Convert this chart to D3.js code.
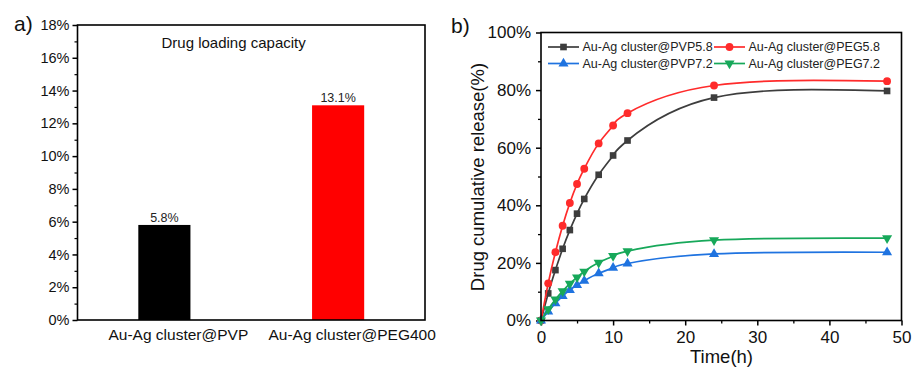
<!DOCTYPE html>
<html>
<head>
<meta charset="utf-8">
<script src="https://cdn.jsdelivr.net/npm/d3@7"></script>
<style>
  body { margin: 0; background: #fff; }
  svg { display: block; font-family: "Liberation Sans", Arial, sans-serif; }
</style>
</head>
<body>
<div id="chart"></div>
<script>
// panel a data
const loadCategories = ["Au-Ag cluster@PVP", "Au-Ag cluster@PEG400"]
const loadValues = [5.8, 13.1]
const loadColors = ["#000000", "#ff0000"]
const loadTicks = [0, 2, 4, 6, 8, 10, 12, 14, 16, 18]

// panel b data
const times = [0, 1, 2, 3, 4, 5, 6, 8, 10, 12, 24, 48]
const pvp58 = [0, 9.4, 17.5, 24.9, 31.4, 37.1, 42.2, 50.6, 57.3, 62.5, 77.4, 79.7]
const peg58 = [0, 12.9, 23.7, 32.9, 40.8, 47.4, 52.7, 61.5, 67.7, 72.0, 81.6, 83.1]
const pvp72 = [0, 3.1, 6.0, 8.5, 10.6, 12.3, 13.8, 16.4, 18.3, 19.8, 23.1, 23.7]
const peg72 = [0, 3.9, 7.3, 10.2, 12.8, 15.0, 17.0, 20.1, 22.4, 24.1, 27.9, 28.6]
const seriesNames = ["Au-Ag cluster@PVP5.8", "Au-Ag cluster@PEG5.8", "Au-Ag cluster@PVP7.2", "Au-Ag cluster@PEG7.2"]
const releaseTicks = [0, 20, 40, 60, 80, 100]
const timeTicks = [0, 10, 20, 30, 40, 50]

const width = 912
const height = 368

const svg = d3
  .select("#chart")
  .append("svg")
  .attr("width", width)
  .attr("height", height)
  .attr("viewBox", [0, 0, width, height])

// ---------- panel a ----------
const a = { left: 77.5, right: 425, top: 25, bottom: 320 }

const xA = d3
  .scalePoint()
  .domain(loadCategories)
  .range([a.left, a.right])
  .padding(0.5)
const barW = xA.step() * 0.3
const yA = d3.scaleLinear().domain([0, 18]).range([a.bottom, a.top])

svg
  .append("g")
  .selectAll("rect")
  .data(loadValues)
  .join("rect")
  .attr("x", (d, i) => xA(loadCategories[i]) - barW / 2)
  .attr("y", d => yA(d))
  .attr("width", barW)
  .attr("height", d => yA(0) - yA(d))
  .attr("fill", (d, i) => loadColors[i])

svg
  .append("g")
  .selectAll("text")
  .data(loadValues)
  .join("text")
  .attr("x", (d, i) => xA(loadCategories[i]))
  .attr("y", d => yA(d) - 3)
  .attr("text-anchor", "middle")
  .attr("font-size", 12.5)
  .attr("fill", "#222")
  .text(d => d.toFixed(1) + "%")

// minor ticks a
svg
  .append("g")
  .attr("transform", `translate(${a.left},0)`)
  .call(d3.axisLeft(yA).tickValues(d3.range(1, 18, 2)).tickSize(3).tickFormat(""))
  .call(g => g.select(".domain").remove())
  .selectAll("line")
  .attr("stroke-width", 1.2)

svg
  .append("g")
  .attr("transform", `translate(${a.left},0)`)
  .call(
    d3
      .axisLeft(yA)
      .tickValues(loadTicks)
      .tickSize(5)
      .tickPadding(3)
      .tickFormat(d => d + "%")
  )
  .call(g => g.select(".domain").remove())
  .call(g => g.selectAll("line").attr("stroke-width", 1.5))
  .selectAll("text")
  .attr("font-size", 14.5)
  .attr("font-family", "Liberation Sans, Arial, sans-serif")
  .attr("fill", "#111")

svg
  .append("g")
  .selectAll("text")
  .data(loadCategories)
  .join("text")
  .attr("x", d => xA(d) + 14)
  .attr("y", 340)
  .attr("text-anchor", "middle")
  .attr("font-size", 15.5)
  .attr("fill", "#111")
  .text(d => d)

svg
  .append("rect")
  .attr("x", a.left)
  .attr("y", a.top)
  .attr("width", a.right - a.left)
  .attr("height", a.bottom - a.top)
  .attr("fill", "none")
  .attr("stroke", "#000")
  .attr("stroke-width", 1.6)

svg
  .append("text")
  .attr("x", 161.5)
  .attr("y", 48)
  .attr("font-size", 15)
  .attr("fill", "#111")
  .text("Drug loading capacity")

svg
  .append("text")
  .attr("x", 14)
  .attr("y", 31)
  .attr("font-size", 21)
  .attr("fill", "#111")
  .text("a)")

// ---------- panel b ----------
const b = { left: 541, right: 901.5, top: 32.5, bottom: 320.5 }

const xB = d3.scaleLinear().domain([0, 50]).range([b.left, b.right])
const yB = d3.scaleLinear().domain([0, 100]).range([b.bottom, b.top])

// minor ticks b
svg
  .append("g")
  .attr("transform", `translate(0,${b.bottom})`)
  .call(d3.axisBottom(xB).tickValues(d3.range(5, 50, 10)).tickSize(3).tickFormat(""))
  .call(g => g.select(".domain").remove())
  .selectAll("line")
  .attr("stroke-width", 1.3)
svg
  .append("g")
  .attr("transform", `translate(${b.left},0)`)
  .call(d3.axisLeft(yB).tickValues(d3.range(10, 100, 20)).tickSize(3).tickFormat(""))
  .call(g => g.select(".domain").remove())
  .selectAll("line")
  .attr("stroke-width", 1.3)

svg
  .append("g")
  .attr("transform", `translate(0,${b.bottom})`)
  .call(d3.axisBottom(xB).tickValues(timeTicks).tickSize(5).tickPadding(5))
  .call(g => g.select(".domain").remove())
  .call(g => g.selectAll("line").attr("stroke-width", 1.5))
  .selectAll("text")
  .attr("font-size", 17)
  .attr("font-family", "Liberation Sans, Arial, sans-serif")
  .attr("fill", "#111")

svg
  .append("g")
  .attr("transform", `translate(${b.left},0)`)
  .call(
    d3
      .axisLeft(yB)
      .tickValues(releaseTicks)
      .tickSize(5)
      .tickPadding(5)
      .tickFormat(d => d + "%")
  )
  .call(g => g.select(".domain").remove())
  .call(g => g.selectAll("line").attr("stroke-width", 1.5))
  .selectAll("text")
  .attr("font-size", 17)
  .attr("font-family", "Liberation Sans, Arial, sans-serif")
  .attr("fill", "#111")

svg
  .append("text")
  .attr("x", 721.5)
  .attr("y", 363)
  .attr("text-anchor", "middle")
  .attr("font-size", 18.5)
  .attr("fill", "#111")
  .text("Time(h)")

svg
  .append("text")
  .attr("transform", "translate(484,177)rotate(-90)")
  .attr("text-anchor", "middle")
  .attr("font-size", 18.5)
  .attr("fill", "#111")
  .text("Drug cumulative release(%)")

svg
  .append("text")
  .attr("x", 451)
  .attr("y", 33)
  .attr("font-size", 21)
  .attr("fill", "#111")
  .text("b)")

const series = [
  { name: seriesNames[0], values: pvp58, color: "#3d3d3d", marker: d3.symbolSquare },
  { name: seriesNames[1], values: peg58, color: "#ff2b2b", marker: d3.symbolCircle },
  { name: seriesNames[2], values: pvp72, color: "#1f73e0", marker: d3.symbolTriangle },
  { name: seriesNames[3], values: peg72, color: "#17a85a", marker: "down" }
]

const markerPath = (m, size) => {
  if (m === "down") return d3.symbol(d3.symbolTriangle, size)()
  return d3.symbol(m, size)()
}

const line = d3
  .line()
  .x((d, i) => xB(times[i]))
  .y(d => yB(d))
  .curve(d3.curveNatural)

const plot = svg.append("g")
series.forEach(s => {
  plot
    .append("path")
    .attr("d", line(s.values))
    .attr("fill", "none")
    .attr("stroke", s.color)
    .attr("stroke-width", 1.7)
  plot
    .append("g")
    .selectAll("path")
    .data(s.values)
    .join("path")
    .attr("d", markerPath(s.marker, s.marker === d3.symbolCircle ? 48 : 44))
    .attr("transform", (d, i) => {
      const r = s.marker === "down" ? "rotate(180)" : ""
      return `translate(${xB(times[i])},${yB(d)})${r}`
    })
    .attr("fill", s.color)
})

// legend
const legendPos = [
  [548, 47],
  [714, 47],
  [548, 63.5],
  [714, 63.5]
]
const legend = svg
  .append("g")
  .selectAll("g")
  .data(series)
  .join("g")
  .attr("transform", (d, i) => `translate(${legendPos[i][0]},${legendPos[i][1]})`)
legend
  .append("line")
  .attr("x1", 0)
  .attr("x2", 31)
  .attr("stroke", d => d.color)
  .attr("stroke-width", 1.7)
legend
  .append("path")
  .attr("d", d => markerPath(d.marker, d.marker === d3.symbolCircle ? 48 : 44))
  .attr("transform", d => `translate(15.5,0)${d.marker === "down" ? "rotate(180)" : ""}`)
  .attr("fill", d => d.color)
legend
  .append("text")
  .attr("x", 34.5)
  .attr("dy", "0.35em")
  .attr("font-size", 12.5)
  .attr("fill", "#222")
  .text(d => d.name)

svg
  .append("rect")
  .attr("x", b.left)
  .attr("y", b.top)
  .attr("width", b.right - b.left)
  .attr("height", b.bottom - b.top)
  .attr("fill", "none")
  .attr("stroke", "#000")
  .attr("stroke-width", 1.6)
</script>
</body>
</html>
